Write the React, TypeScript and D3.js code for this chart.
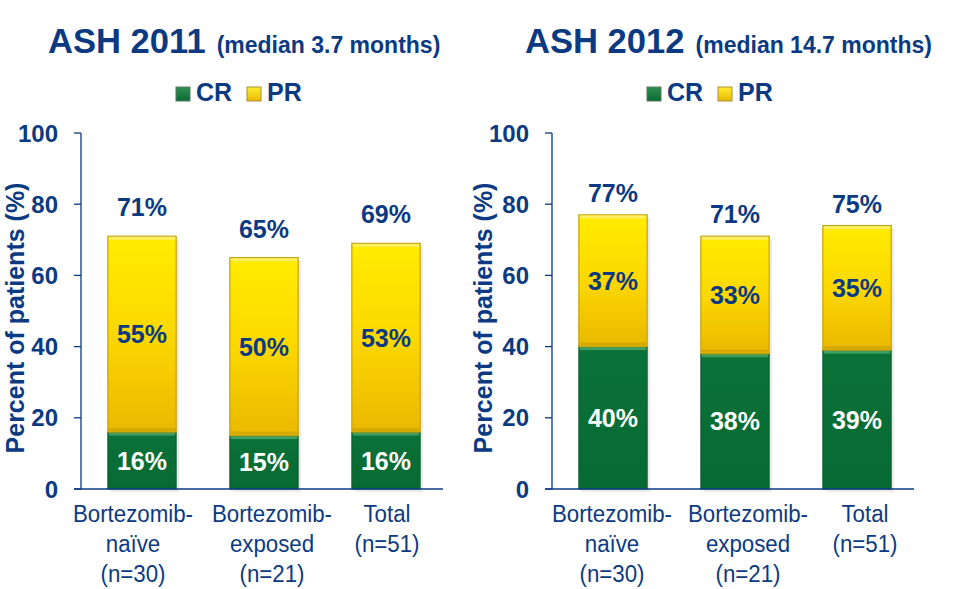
import React from "react";
import * as d3 from "d3";

const categories = ["Bortezomib-naïve", "Bortezomib-exposed", "Total"];
const categoryLines = [
  ["Bortezomib-", "naïve", "(n=30)"],
  ["Bortezomib-", "exposed", "(n=21)"],
  ["Total", "(n=51)"],
];
const yTicks = [0, 20, 40, 60, 80, 100];

const cr2011 = [16, 15, 16];
const pr2011 = [55, 50, 53];
const total2011 = ["71%", "65%", "69%"];

const cr2012 = [40, 38, 39];
const pr2012 = [37, 33, 35];
const total2012 = ["77%", "71%", "75%"];

const NAVY = "#0b3a82";
const W = 961;
const H = 589;

type PanelProps = {
  title: string;
  subtitle: string;
  titleX: number;
  legendX: number;
  axisX: number;
  cr: number[];
  pr: number[];
  totals: string[];
  totalGap: number;
  titleLabelX: number;
  labelShift: number[];
};

function Panel(p: PanelProps) {
  const y = d3.scaleLinear().domain([0, 100]).range([489, 133]);
  const x = d3
    .scaleBand<string>()
    .domain(categories)
    .range([p.axisX, p.axisX + 366])
    .paddingInner(0.44)
    .paddingOuter(0.22);
  const bw = x.bandwidth();
  const sans = "Arial, 'Liberation Sans', Helvetica, sans-serif";
  return (
    <g fontFamily={sans}>
      {/* title */}
      <text x={p.titleX} y={53} fill={NAVY} fontWeight="bold">
        <tspan fontSize={34.6}>{p.title}</tspan>
        <tspan fontSize={23} dx={11}>{p.subtitle}</tspan>
      </text>
      {/* legend */}
      <g transform={`translate(${p.legendX},0)`}>
        <rect x={0} y={87} width={14} height={14} fill="url(#gGreenLeg)" stroke="#5a7a60" strokeWidth={1} />
        <text x={20} y={101} fill={NAVY} fontWeight="bold" fontSize={25}>CR</text>
        <rect x={71} y={87} width={14} height={14} fill="url(#gYellowLeg)" stroke="#a89040" strokeWidth={1} />
        <text x={91} y={101} fill={NAVY} fontWeight="bold" fontSize={25}>PR</text>
      </g>
      {/* y axis title */}
      <text
        transform={`translate(${p.titleLabelX},318) rotate(-90)`}
        textAnchor="middle"
        fill={NAVY}
        fontWeight="bold"
        fontSize={25}
      >
        Percent of patients (%)
      </text>
      {/* y axis */}
      <line x1={p.axisX} x2={p.axisX} y1={y(100)} y2={y(0)} stroke={NAVY} strokeWidth={1.3} />
      {yTicks.map((t) => (
        <g key={t}>
          <line x1={p.axisX - 7} x2={p.axisX} y1={y(t)} y2={y(t)} stroke={NAVY} strokeWidth={1.3} />
          <text
            x={p.axisX - 23}
            y={y(t) + 8.5}
            textAnchor="end"
            fill={NAVY}
            fontWeight="bold"
            fontSize={24}
          >
            {t}
          </text>
        </g>
      ))}
      {/* bars */}
      {categories.map((c, i) => {
        const x0 = x(c) as number;
        const cx = x0 + bw / 2;
        const crTop = y(p.cr[i]);
        const prTop = y(p.cr[i] + p.pr[i]);
        return (
          <g key={c}>
            <rect x={x0 + 3} y={prTop + 3} width={bw} height={y(0) - prTop} fill="#000" opacity={0.08} />
            <rect x={x0} y={crTop} width={bw} height={y(0) - crTop} fill="url(#gGreen)" stroke="#0c5a2e" strokeWidth={1} />
            <rect x={x0 + 1} y={crTop + 0.5} width={bw - 2} height={3} fill="#3f9f63" />
            <rect x={x0} y={prTop} width={bw} height={crTop - prTop} fill="url(#gYellow)" stroke="#c4a20a" strokeWidth={1.2} />
            <rect x={x0 + 1} y={prTop + 0.5} width={bw - 2} height={3} fill="#fff07a" opacity={0.8} />
            <rect x={x0 + 1} y={crTop - 4} width={bw - 2} height={3} fill="#b89400" opacity={0.45} />
            <text x={cx} y={prTop - p.totalGap} textAnchor="middle" fill={NAVY} fontWeight="bold" fontSize={25}>
              {p.totals[i]}
            </text>
            <text x={cx} y={(prTop + crTop) / 2 + 9} textAnchor="middle" fill={NAVY} fontWeight="bold" fontSize={25}>
              {p.pr[i] + "%"}
            </text>
            <text x={cx} y={(crTop + y(0)) / 2 + 9} textAnchor="middle" fill="#ffffff" fontWeight="bold" fontSize={25}>
              {p.cr[i] + "%"}
            </text>
            <g transform={`translate(${cx + p.labelShift[i]},0) scale(0.91,1)`}>
              {categoryLines[i].map((ln, k) => (
                <text key={k} x={0} y={522 + k * 30} textAnchor="middle" fill={NAVY} fontSize={24.5}>
                  {ln}
                </text>
              ))}
            </g>
          </g>
        );
      })}
      {/* x axis */}
      <line x1={p.axisX - 7} x2={p.axisX + 362} y1={y(0)} y2={y(0)} stroke={NAVY} strokeWidth={1.3} />
    </g>
  );
}

export default function App() {
  return (
    <svg
      width={W}
      height={H}
      style={{ position: "absolute", left: 0, top: 0, background: "#fff" }}
    >
      <defs>
        <linearGradient id="gYellow" x1="0" y1="0" x2="0" y2="1">
          <stop offset="0" stopColor="#ffec00" />
          <stop offset="0.5" stopColor="#fcd800" />
          <stop offset="1" stopColor="#eab800" />
        </linearGradient>
        <linearGradient id="gGreen" x1="0" y1="0" x2="0" y2="1">
          <stop offset="0" stopColor="#0a7238" />
          <stop offset="1" stopColor="#076a33" />
        </linearGradient>
        <linearGradient id="gGreenLeg" x1="0" y1="0" x2="0" y2="1">
          <stop offset="0" stopColor="#2f8f50" />
          <stop offset="1" stopColor="#0a6a33" />
        </linearGradient>
        <linearGradient id="gYellowLeg" x1="0" y1="0" x2="0" y2="1">
          <stop offset="0" stopColor="#ffee30" />
          <stop offset="1" stopColor="#e8b800" />
        </linearGradient>
      </defs>
      <Panel
        title="ASH 2011"
        subtitle="(median 3.7 months)"
        titleX={48}
        legendX={176}
        axisX={81}
        cr={cr2011}
        pr={pr2011}
        totals={total2011}
        totalGap={20}
        titleLabelX={24}
        labelShift={[-9, 8, 1]}
      />
      <Panel
        title="ASH 2012"
        subtitle="(median 14.7 months)"
        titleX={525}
        legendX={647}
        axisX={552}
        cr={cr2012}
        pr={pr2012}
        totals={total2012}
        totalGap={13}
        titleLabelX={492}
        labelShift={[-1, 13, 8]}
      />
    </svg>
  );
}
